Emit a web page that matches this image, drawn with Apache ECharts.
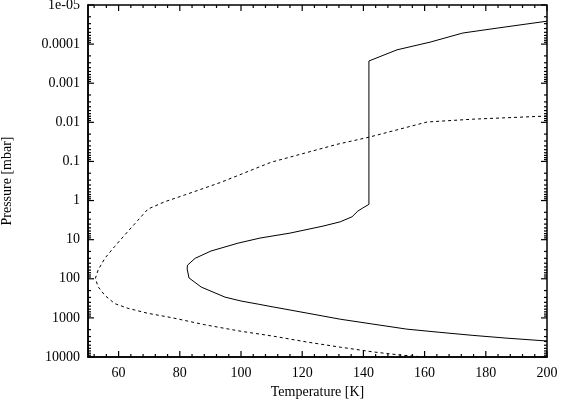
<!DOCTYPE html>
<html>
<head>
<meta charset="utf-8">
<script src="https://cdn.jsdelivr.net/npm/echarts@6/dist/echarts.min.js"></script>
<style>html,body{margin:0;padding:0;background:#fff}#main{width:563px;height:399px}</style>
</head>
<body>
<div id="main"></div>
<script>
// 温度-压力廓线 (实线与虚线)
var solidT = [200, 198.4, 183.7, 172.5, 161.8, 151, 141.8, 141.8, 139.8, 138.2, 136.3, 132.4, 126.8, 116, 106.2, 99, 90.2, 85, 82.5, 82.4, 83, 87, 94.8, 100, 105.6, 110.5, 121.6, 132.4, 143.1, 154.2, 165, 175.8, 186.9, 200];
var solidP = [2.6e-5, 2.7e-5, 3.9e-5, 5.2e-5, 8.9e-5, 1.4e-4, 2.7e-4, 1.25, 1.55, 1.85, 2.6, 3.5, 4.5, 6.8, 9.1, 12.3, 19.5, 30, 45, 56, 95, 163, 295, 370, 445, 525, 755, 1080, 1440, 1940, 2340, 2800, 3300, 3900];

var dashT = [200, 175.8, 160.8, 141.8, 131.7, 120.9, 109.8, 93.5, 81.6, 75.1, 69.6, 66.3, 62, 58.7, 55.5, 53.3, 52.4, 53.3, 55.5, 58.7, 63.1, 69.6, 77.2, 88.2, 99.7, 110.5, 121.6, 132.4, 143.1, 152, 160];
var dashP = [0.0069, 0.0083, 0.0098, 0.024, 0.036, 0.061, 0.105, 0.34, 0.72, 1.07, 1.65, 3.2, 7.6, 15, 30, 60, 98, 160, 265, 430, 570, 765, 980, 1500, 2180, 2930, 4150, 5600, 7400, 8900, 10000];

// 刻度
var xTicks = [60, 80, 100, 120, 140, 160, 180, 200];
var yTicks = [1e-5, 1e-4, 1e-3, 0.01, 0.1, 1, 10, 100, 1000, 10000];
var yLabels = ['1e-05', '0.0001', '0.001', '0.01', '0.1', '1', '10', '100', '1000', '10000'];

// 次刻度
var xMinor = [];
for (var t = 52; t < 200; t += 4) {
	if ((t - 60) % 20 !== 0) xMinor.push(t);
}
var yMinor = [];
for (var e = -5; e < 4; e++) {
	for (var k = 2; k <= 9; k++) yMinor.push(k * Math.pow(10, e));
}

var font = 'Liberation Serif';
var xMin = 50, xMax = 200, yMin = 1e-5, yMax = 1e4;
var majorLen = 6, minorLen = 3;
var tickStyle = {stroke: '#000', lineWidth: 1.2};

var zip = function(xs, ys) {
	return xs.map(function(x, i) { return [x, ys[i]]; });
};

// 刻度线画在框内 (上下左右对称)
var tickLine = function(x1, y1, x2, y2) {
	return {type: 'line', shape: {x1: x1, y1: y1, x2: x2, y2: y2}, style: tickStyle};
};
var xTickData = xTicks.map(function(v) { return [v, majorLen]; })
	.concat(xMinor.map(function(v) { return [v, minorLen]; }));
var yTickData = yTicks.map(function(v) { return [majorLen, v]; })
	.concat(yMinor.map(function(v) { return [minorLen, v]; }));

var chart = echarts.init(document.getElementById('main'));
var option = {
	animation: false,
	backgroundColor: '#fff',
	grid: {
		left: 88, right: 16, top: 5, bottom: 42, containLabel: false, outerBoundsMode: 'none',
		show: true, borderColor: '#000', borderWidth: 1.5, backgroundColor: 'transparent'
	},
	xAxis: {
		type: 'value', min: xMin, max: xMax,
		axisLine: {show: true, onZero: false, lineStyle: {color: '#000', width: 1.5}},
		axisTick: {show: false},
		axisLabel: {show: true, customValues: xTicks, margin: 9, color: '#000', fontFamily: font, fontSize: 14},
		splitLine: {show: false},
		name: 'Temperature [K]',
		nameLocation: 'middle',
		nameGap: 19,
		nameTextStyle: {color: '#000', fontFamily: font, fontSize: 14}
	},
	yAxis: {
		type: 'log', logBase: 10, min: yMin, max: yMax, inverse: true,
		axisLine: {show: true, onZero: false, lineStyle: {color: '#000', width: 1.5}},
		axisTick: {show: false},
		axisLabel: {
			show: true, customValues: yTicks, margin: 8, color: '#000', fontFamily: font, fontSize: 14,
			formatter: function(v) { return yLabels[Math.round(Math.log10(v)) + 5]; }
		},
		splitLine: {show: false},
		name: 'Pressure [mbar]',
		nameLocation: 'middle',
		nameGap: 74,
		nameRotate: 90,
		nameTextStyle: {color: '#000', fontFamily: font, fontSize: 14}
	},
	series: [
		{
			type: 'line', showSymbol: false, symbol: 'none',
			lineStyle: {color: '#000', width: 1},
			data: zip(solidT, solidP)
		},
		{
			type: 'line', showSymbol: false, symbol: 'none',
			lineStyle: {color: '#000', width: 1, type: [3, 3]},
			data: zip(dashT, dashP)
		},
		{
			type: 'custom', silent: true, clip: false,
			data: xTickData,
			renderItem: function(params, api) {
				var v = api.value(0), len = api.value(1);
				var b = api.coord([v, yMax]), t = api.coord([v, yMin]);
				return {type: 'group', children: [
					tickLine(b[0], b[1], b[0], b[1] - len),
					tickLine(t[0], t[1], t[0], t[1] + len)
				]};
			}
		},
		{
			type: 'custom', silent: true, clip: false,
			data: yTickData,
			renderItem: function(params, api) {
				var len = api.value(0), v = api.value(1);
				var l = api.coord([xMin, v]), r = api.coord([xMax, v]);
				return {type: 'group', children: [
					tickLine(l[0], l[1], l[0] + len, l[1]),
					tickLine(r[0], r[1], r[0] - len, r[1])
				]};
			}
		}
	]
};
chart.setOption(option);
</script>
</body>
</html>
